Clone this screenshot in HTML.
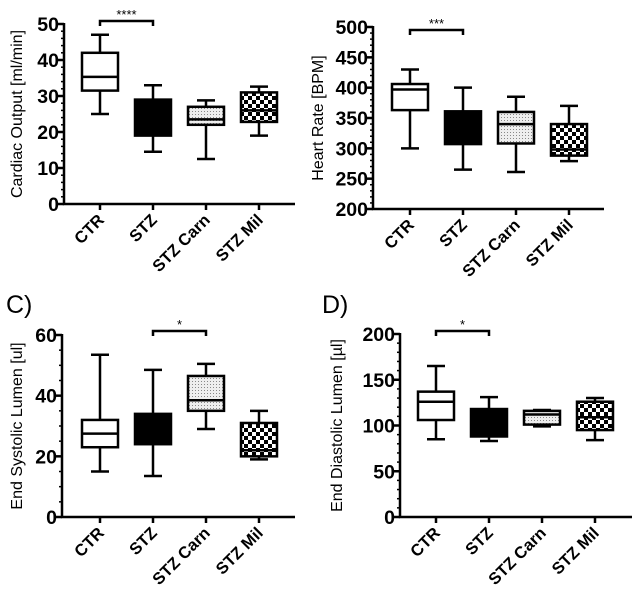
<!DOCTYPE html>
<html><head><meta charset="utf-8"><style>
body{margin:0;background:#fff;}
svg{display:block;font-family:"Liberation Sans",Arial,sans-serif;}
</style></head><body>
<svg id="c" width="638" height="594" viewBox="0 0 638 594">
<defs>
<pattern id="dots" width="3" height="3" patternUnits="userSpaceOnUse"><rect width="3" height="3" fill="#eee"/><rect width="1" height="1" fill="#888"/></pattern>
<pattern id="check" width="8" height="8" patternUnits="userSpaceOnUse"><rect width="8" height="8" fill="#fff"/><rect width="4" height="4" fill="#000"/><rect x="4" y="4" width="4" height="4" fill="#000"/></pattern>
</defs>
<text x="6" y="313" font-size="25">C)</text>
<text x="322" y="313" font-size="25">D)</text>
</svg>
<script>
const categories=["CTR","STZ","STZ Carn","STZ Mil"];
const coMin=[25,14.5,12.5,19], coQ1=[31.5,19,22,22.8], coMed=[35.3,23.5,23.5,26], coQ3=[42,29,27,31], coMax=[47,33,28.8,32.6];
const hrMin=[300,265,261,279], hrQ1=[363,307,308,288], hrMed=[397,333,340,298], hrQ3=[406,361,360,340], hrMax=[430,400,385,370];
const esMin=[15,13.5,29,19], esQ1=[23,24,35,20], esMed=[27.5,28.5,38.5,22], esQ3=[32,34,46.5,31], esMax=[53.5,48.5,50.5,35];
const edMin=[85,83,99,84], edQ1=[106,88,101,95], edMed=[126,100,112,109], edQ3=[137,118,116,126], edMax=[165,131,117,130];
const coTicks=[0,10,20,30,40,50], hrTicks=[200,250,300,350,400,450,500], esTicks=[0,20,40,60], edTicks=[0,50,100,150,200];
const fills=["#fff","#000","url(#dots)","url(#check)"];
const svg=document.getElementById('c');
const NS="http://www.w3.org/2000/svg";
function mk(t,a,p){const e=document.createElementNS(NS,t);for(const k in a)e.setAttribute(k,a[k]);(p||svg).appendChild(e);return e;}
function panel(cfg){
  const g=mk('g',{});
  
  
  const lo=cfg.ticks[0],hi=cfg.ticks[cfg.ticks.length-1];
  const y=v=>cfg.y0+(cfg.y1-cfg.y0)*(v-lo)/(hi-lo);
  const x=i=>cfg.cx0+i*cfg.dx;
  const ax=mk('path',{d:`M${cfg.ax} ${y(hi)-1}V${cfg.y0}H${cfg.xend}`,stroke:'#000','stroke-width':2.5,fill:'none'},g);
  
  
  for(let v=lo;v<=hi+1e-9;v+=cfg.minor){mk('line',{x1:cfg.ax-3,x2:cfg.ax,y1:y(v),y2:y(v),stroke:'#000','stroke-width':1.5},g);}
  cfg.ticks.forEach(v=>{
    mk('line',{x1:cfg.ax-6,x2:cfg.ax,y1:y(v),y2:y(v),stroke:'#000','stroke-width':2.5},g);
    const t=mk('text',{x:cfg.ax-5,y:y(v)+7,'text-anchor':'end','font-size':19.5,'font-weight':'bold'},g);t.textContent=v;
    
    
  });
  const tt=mk('text',{transform:`translate(${cfg.tx},${(cfg.y0+y(hi))/2}) rotate(-90)`,'text-anchor':'middle','font-size':16},g);tt.textContent=cfg.title;
  
  
  const w=18;
  categories.forEach((c,i)=>{
    const cx=x(i);
    mk('line',{x1:cx,x2:cx,y1:cfg.y0,y2:cfg.y0+6,stroke:'#000','stroke-width':2.5},g);
    const lb=mk('text',{transform:`translate(${cx+5},${cfg.y0+17}) rotate(-45)`,'text-anchor':'end','font-size':16.5,'font-weight':'bold'},g);lb.textContent=c;
    
    
    const bg=mk('g',{},g);
    
    
    const s={stroke:'#000','stroke-width':2.5};
    mk('line',{x1:cx,x2:cx,y1:y(cfg.max[i]),y2:y(cfg.min[i]),...s},bg);
    mk('line',{x1:cx-9,x2:cx+9,y1:y(cfg.max[i]),y2:y(cfg.max[i]),...s},bg);
    mk('line',{x1:cx-9,x2:cx+9,y1:y(cfg.min[i]),y2:y(cfg.min[i]),...s},bg);
    mk('rect',{x:cx-w,y:y(cfg.q3[i]),width:2*w,height:y(cfg.q1[i])-y(cfg.q3[i]),fill:fills[i],...s},bg);
    mk('line',{x1:cx-w,x2:cx+w,y1:y(cfg.med[i]),y2:y(cfg.med[i]),...s},bg);
  });
  const a=x(cfg.br[0]),b=x(cfg.br[1]);
  const br=mk('path',{d:`M${a} ${cfg.by+5}V${cfg.by}H${b}V${cfg.by+5}`,stroke:'#000','stroke-width':2.5,fill:'none'},g);
  
  
  const st=mk('text',{x:(a+b)/2,y:cfg.by-2,'text-anchor':'middle','font-size':13},g);st.textContent=cfg.stars;
  
  
}
panel({name:'panel-cardiac-output',ticks:coTicks,minor:2,y0:204,y1:24,ax:64,xend:295,cx0:100,dx:53,tx:22,title:'Cardiac Output [ml/min]',min:coMin,q1:coQ1,med:coMed,q3:coQ3,max:coMax,br:[0,1],by:21,stars:'****'});
panel({name:'panel-heart-rate',ticks:hrTicks,minor:10,y0:209,y1:27,ax:373,xend:604,cx0:410,dx:53,tx:323,title:'Heart Rate [BPM]',min:hrMin,q1:hrQ1,med:hrMed,q3:hrQ3,max:hrMax,br:[0,1],by:30,stars:'***'});
panel({name:'panel-end-systolic',ticks:esTicks,minor:5,y0:517,y1:335,ax:62,xend:295,cx0:100,dx:53,tx:22,title:'End Systolic Lumen  [ul]',min:esMin,q1:esQ1,med:esMed,q3:esQ3,max:esMax,br:[1,2],by:331,stars:'*'});
panel({name:'panel-end-diastolic',ticks:edTicks,minor:10,y0:517,y1:334,ax:400,xend:632,cx0:436,dx:53,tx:342,title:'End Diastolic Lumen [µl]',min:edMin,q1:edQ1,med:edMed,q3:edQ3,max:edMax,br:[0,1],by:331,stars:'*'});
</script>
</body></html>
